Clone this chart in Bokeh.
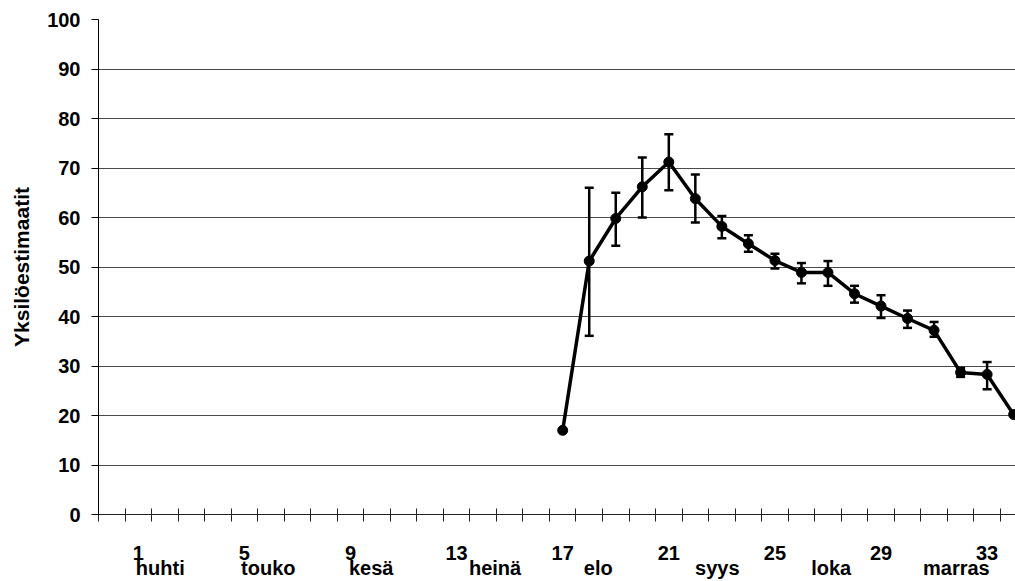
from bokeh.plotting import figure
from bokeh.models import (Range1d, LinearAxis, FixedTicker, ColumnDataSource,
                          Whisker, TeeHead)
from bokeh.embed import file_html
from bokeh.resources import INLINE

# ---- data ----
weeks = [17, 18, 19, 20, 21, 22, 23, 24, 25, 26, 27, 28, 29, 30, 31, 32, 33, 34]
estimates = [17.0, 51.2, 59.8, 66.2, 71.2, 63.8, 58.2, 54.7, 51.3, 48.9, 48.9,
             44.6, 42.1, 39.6, 37.2, 28.7, 28.3, 20.2]

err_weeks = [18, 19, 20, 21, 22, 23, 24, 25, 26, 27, 28, 29, 30, 31, 32, 33]
err_upper = [66.0, 65.0, 72.1, 76.8, 68.7, 60.3, 56.4, 52.7, 50.8, 51.2, 46.2,
             44.3, 41.2, 38.9, 29.6, 30.8]
err_lower = [36.1, 54.3, 60.0, 65.5, 59.0, 55.8, 53.1, 49.7, 46.7, 46.2, 42.8,
             39.7, 37.7, 35.9, 27.8, 25.3]

week_labels = [1, 5, 9, 13, 17, 21, 25, 29, 33]
week_bounds = [w - 0.5 for w in range(0, 36)]
month_names = ["huhti", "touko", "kesä", "heinä", "elo", "syys", "loka", "marras"]
month_pos = [1.83, 5.9, 9.78, 14.45, 18.34, 22.83, 27.12, 31.84]
y_ticks = [0, 10, 20, 30, 40, 50, 60, 70, 80, 90, 100]

FONT = "Liberation Sans"
TICK_SIZE = "20px"

p = figure(width=1015, height=581, output_backend="svg", toolbar_location=None,
           x_range=Range1d(-0.5, 34.07), y_range=Range1d(0, 100),
           x_axis_type=None, min_border_left=98, min_border_right=0,
           min_border_top=19, min_border_bottom=67)
p.outline_line_color = None
p.background_fill_color = "white"
p.border_fill_color = "white"
p.xgrid.visible = False

# y axis
ya = p.yaxis[0]
ya.ticker = FixedTicker(ticks=y_ticks)
ya.axis_label = "Yksilöestimaatit"
ya.axis_label_text_font = FONT
ya.axis_label_text_font_style = "bold"
ya.axis_label_text_font_size = "21px"
ya.axis_label_text_color = "black"
ya.axis_label_standoff = 11
ya.major_label_text_font = FONT
ya.major_label_text_font_style = "bold"
ya.major_label_text_font_size = TICK_SIZE
ya.major_label_text_color = "black"
ya.major_label_standoff = 11
ya.major_tick_in = 0
ya.major_tick_out = 7
ya.minor_tick_line_color = None
ya.axis_line_color = "black"
ya.major_tick_line_color = "black"

p.ygrid.ticker = FixedTicker(ticks=y_ticks[1:])
p.ygrid.grid_line_color = "#4a4a4a"
p.ygrid.grid_line_width = 1

# week axis
wa = LinearAxis(ticker=FixedTicker(ticks=week_labels, minor_ticks=week_bounds))
wa.major_tick_line_color = None
wa.major_tick_in = 0
wa.major_tick_out = 0
wa.minor_tick_in = 6
wa.minor_tick_out = 7
wa.minor_tick_line_color = "#222222"
wa.axis_line_color = "#222222"
wa.major_label_text_font = FONT
wa.major_label_text_font_style = "bold"
wa.major_label_text_font_size = TICK_SIZE
wa.major_label_text_color = "black"
wa.major_label_standoff = 24
p.add_layout(wa, "below")

# month axis
ma = LinearAxis(ticker=FixedTicker(ticks=month_pos),
                major_label_overrides={pos: name for pos, name in zip(month_pos, month_names)})
ma.axis_line_color = None
ma.major_tick_line_color = None
ma.minor_tick_line_color = None
ma.major_tick_in = 0
ma.major_tick_out = 0
ma.major_label_text_font = FONT
ma.major_label_text_font_style = "bold"
ma.major_label_text_font_size = TICK_SIZE
ma.major_label_text_color = "black"
ma.major_label_standoff = -6
p.add_layout(ma, "below")

# data
src = ColumnDataSource(dict(x=weeks, y=estimates))
esrc = ColumnDataSource(dict(x=err_weeks, upper=err_upper, lower=err_lower))

w = Whisker(source=esrc, base="x", upper="upper", lower="lower",
            line_color="black", line_width=2.5,
            upper_head=TeeHead(size=9, line_color="black", line_width=2.5),
            lower_head=TeeHead(size=9, line_color="black", line_width=2.5))
p.add_layout(w)

p.line("x", "y", source=src, line_color="black", line_width=3.5)
p.scatter("x", "y", source=src, size=10, color="black")

open("out.html", "w").write(file_html(p, INLINE))
